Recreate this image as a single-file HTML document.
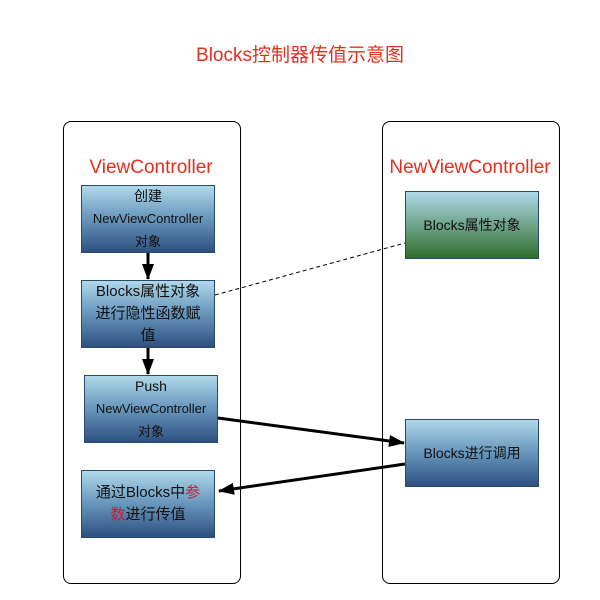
<!DOCTYPE html><html><head><meta charset="utf-8"><style>
body{margin:0;width:600px;height:600px;background:#fff;position:relative;font-family:"Liberation Sans","Noto Sans CJK SC",sans-serif;overflow:hidden}
.c{position:absolute;border:1px solid #000;border-radius:8px;background:#fff}
.b{position:absolute;border:1px solid #2a4a6a;background:linear-gradient(#b0d8ea,#6d9cc0 45%,#2d5080);display:flex;align-items:center;justify-content:center;text-align:center;color:#111;font-size:14px;line-height:22px;box-sizing:border-box}
.g{background:linear-gradient(#b0d8ea,#6fa48a 50%,#2f6e2a)}
.t{position:absolute;color:#e0301e;font-size:19px}
</style></head><body>
<div class="t" style="left:0;width:600px;text-align:center;top:40px;font-size:19px">Blocks控制器传值示意图</div>
<div class="c" style="left:63px;top:121px;width:176px;height:461px"></div>
<div class="c" style="left:382px;top:121px;width:176px;height:461px"></div>
<div class="t" style="left:63px;width:176px;text-align:center;top:157px">ViewController</div>
<div class="t" style="left:382px;width:176px;text-align:center;top:157px">NewViewController</div>
<div class="b" style="left:81px;top:185px;width:134px;height:68px"><div>创建<br><span style="font-size:13px">NewViewController</span><br><span style="font-size:13px">对象</span></div></div>
<div class="b" style="left:81px;top:280px;width:134px;height:68px;font-size:15px"><div>Blocks属性对象<br>进行隐性函数赋<br>值</div></div>
<div class="b" style="left:84px;top:375px;width:134px;height:68px"><div>Push<br><span style="font-size:13px">NewViewController</span><br><span style="font-size:13px">对象</span></div></div>
<div class="b" style="left:81px;top:470px;width:134px;height:68px;font-size:15px"><div>通过Blocks中<span style="color:#c0203a">参</span><br><span style="color:#c0203a">数</span>进行传值</div></div>
<div class="b g" style="left:405px;top:191px;width:134px;height:68px"><div>Blocks属性对象</div></div>
<div class="b" style="left:405px;top:419px;width:134px;height:68px"><div>Blocks进行调用</div></div>
<svg width="600" height="600" style="position:absolute;left:0;top:0">
<defs><marker id="a" markerWidth="8" markerHeight="8" refX="7" refY="4" orient="auto" markerUnits="userSpaceOnUse"><path d="M0,0L8,4L0,8Z" fill="#000"/></marker>
<marker id="m" markerWidth="16" markerHeight="12" refX="15" refY="6" orient="auto" markerUnits="userSpaceOnUse"><path d="M0,0L16,6L0,12Z" fill="#000"/></marker></defs>
<line x1="148" y1="253" x2="148" y2="279" stroke="#000" stroke-width="3" marker-end="url(#m)"/>
<line x1="148" y1="348" x2="148" y2="374" stroke="#000" stroke-width="3" marker-end="url(#m)"/>
<line x1="218" y1="418" x2="404" y2="443" stroke="#000" stroke-width="3" marker-end="url(#m)"/>
<line x1="405" y1="464" x2="219" y2="491" stroke="#000" stroke-width="3" marker-end="url(#m)"/>
<line x1="215" y1="295" x2="405" y2="243" stroke="#000" stroke-width="1" stroke-dasharray="4,3"/>
</svg>
</body></html>
